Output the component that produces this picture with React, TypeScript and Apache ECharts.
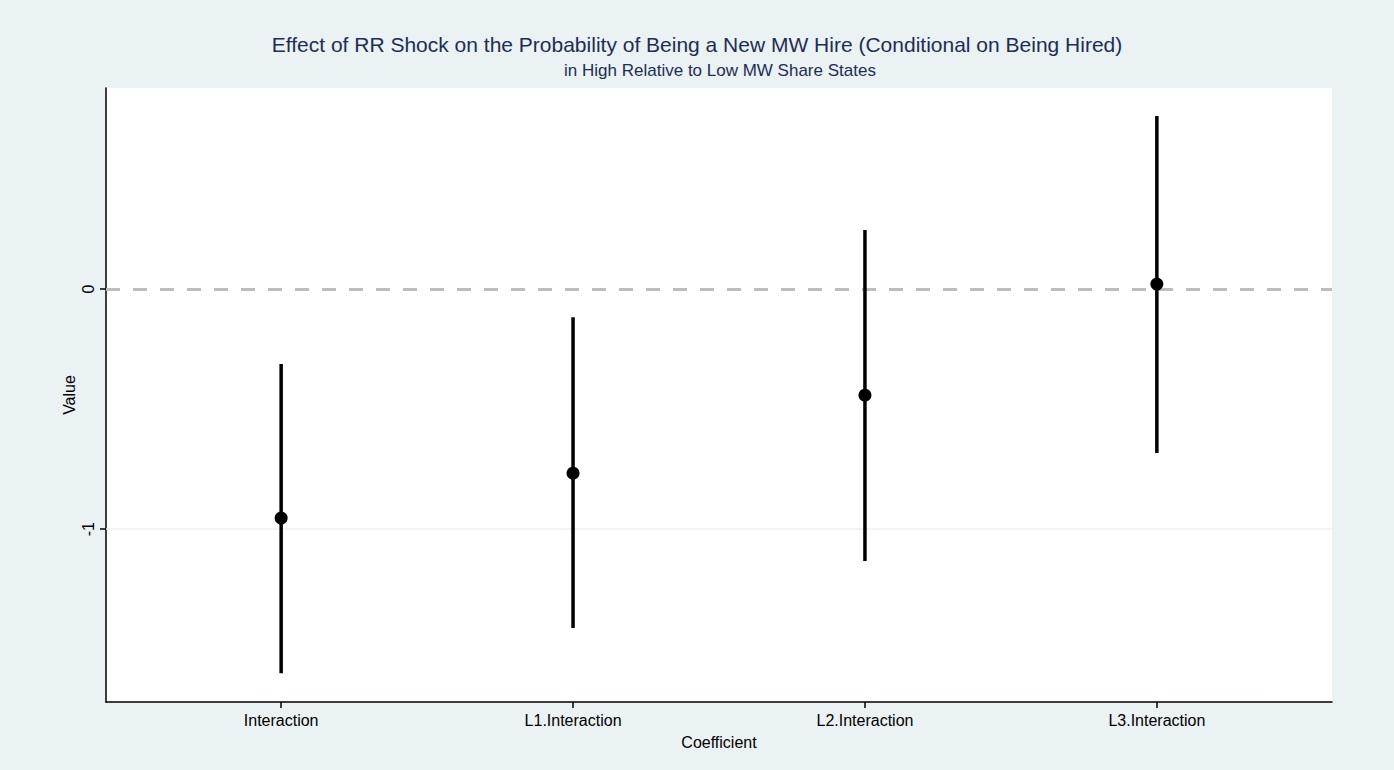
import React, { useEffect, useRef } from "react";
import * as echarts from "echarts";

const categories = ["Interaction", "L1.Interaction", "L2.Interaction", "L3.Interaction"];
const positions = [1, 2, 3, 4];
const estimates = [-0.954, -0.767, -0.442, 0.021];
const ciLow = [-1.6, -1.412, -1.133, -0.683];
const ciHigh = [-0.312, -0.117, 0.246, 0.721];
const yTicks = [0, -1];

const FONT = "'Liberation Sans', Arial, Helvetica, sans-serif";

export default function App() {
  const ref = useRef<HTMLDivElement>(null);
  useEffect(() => {
    document.body.style.margin = "0";
    const chart = echarts.init(ref.current!, null, { renderer: "svg" });
    const ciData = positions.map((p, i) => [p, ciLow[i], ciHigh[i]]);
    const ptData = positions.map((p, i) => [p, estimates[i]]);
    chart.setOption({
      animation: false,
      backgroundColor: "#eaf2f3",
      textStyle: { fontFamily: FONT },
      graphic: [
        {
          type: "text",
          x: 697,
          y: 44,
          style: {
            text: "Effect of RR Shock on the Probability of Being a New MW Hire (Conditional on Being Hired)",
            fontSize: 21,
            fontFamily: FONT,
            fill: "#1e2d53",
            align: "center",
            verticalAlign: "middle",
          },
        },
        {
          type: "text",
          x: 720,
          y: 70,
          style: {
            text: "in High Relative to Low MW Share States",
            fontSize: 17,
            fontFamily: FONT,
            fill: "#1e2d53",
            align: "center",
            verticalAlign: "middle",
          },
        },
      ],
      grid: {
        left: 106,
        top: 88,
        width: 1226,
        height: 614,
        show: true,
        backgroundColor: "#ffffff",
        borderWidth: 0,
      },
      xAxis: {
        type: "value",
        min: 0.4,
        max: 4.6,
        name: "Coefficient",
        nameLocation: "middle",
        nameGap: 32,
        nameTextStyle: { fontSize: 16, color: "#000", fontFamily: FONT },
        axisLine: { show: true, onZero: false, lineStyle: { color: "#000", width: 1.5 } },
        axisTick: { show: true, customValues: positions, length: 6, lineStyle: { color: "#000", width: 1.5 } },
        axisLabel: {
          customValues: positions,
          formatter: (v: number) => categories[Math.round(v) - 1] ?? "",
          fontSize: 16,
          color: "#000",
          margin: 10,
          fontFamily: FONT,
        },
        splitLine: { show: false },
      },
      yAxis: {
        type: "value",
        min: -1.72,
        max: 0.8375,
        name: "Value",
        nameLocation: "middle",
        nameGap: 29,
        nameRotate: 90,
        nameMoveOverlap: false,
        nameTextStyle: { fontSize: 16, color: "#000", fontFamily: FONT },
        axisLine: { show: true, onZero: false, lineStyle: { color: "#000", width: 1.5 } },
        axisTick: { show: true, customValues: yTicks, length: 6, lineStyle: { color: "#000", width: 1.5 } },
        axisLabel: {
          customValues: yTicks,
          rotate: 90,
          fontSize: 16,
          color: "#000",
          margin: 10,
          fontFamily: FONT,
          formatter: (v: number) => String(v),
        },
        splitLine: { show: false },
      },
      series: [
        {
          type: "custom",
          data: ciData,
          renderItem: (params: any, api: any) => {
            const x = api.value(0);
            const p1 = api.coord([x, api.value(1)]);
            const p2 = api.coord([x, api.value(2)]);
            return {
              type: "line",
              shape: { x1: p1[0], y1: p1[1], x2: p2[0], y2: p2[1] },
              style: { stroke: "#000", lineWidth: 3.5 },
            };
          },
          encode: { x: 0, y: [1, 2] },
          z: 3,
          markLine: {
            silent: true,
            symbol: "none",
            label: { show: false },
            data: [
              { yAxis: -1, lineStyle: { color: "#eaf2f3", width: 1.5, type: "solid" } },
              { yAxis: 0, lineStyle: { color: "#bdbdbd", width: 3, type: [14, 13] } },
            ],
            z: 1,
          },
        },
        {
          type: "scatter",
          data: ptData,
          symbol: "circle",
          symbolSize: 13,
          itemStyle: { color: "#000", opacity: 1 },
          z: 4,
        },
      ],
    });
    return () => chart.dispose();
  }, []);
  return <div ref={ref} style={{ width: 1394, height: 770, position: "fixed", left: 0, top: 0 }} />;
}
